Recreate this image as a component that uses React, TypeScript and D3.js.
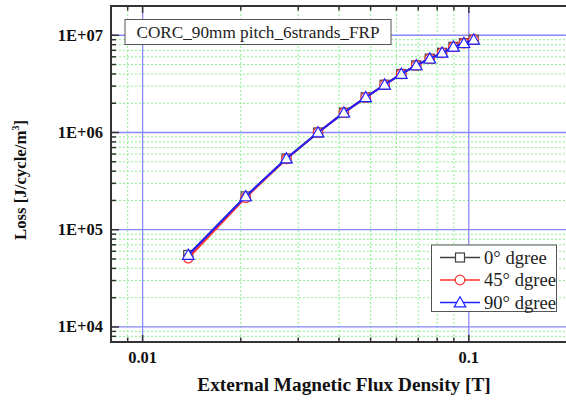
import React from "react";
import * as d3 from "d3";

const fieldT = [0.0138, 0.0207, 0.0276, 0.0345, 0.0414, 0.0483, 0.0552, 0.0621, 0.069, 0.0759, 0.0828, 0.0897, 0.0966, 0.1035];
const loss0 = [55000, 220000, 540000, 1000000, 1600000, 2300000, 3100000, 4000000, 4900000, 5750000, 6600000, 7600000, 8300000, 9000000];
const loss45 = [51000, 214000, 535000, 1000000, 1600000, 2300000, 3100000, 4000000, 4900000, 5750000, 6600000, 7600000, 8300000, 9000000];
const loss90 = [55000, 220000, 540000, 1000000, 1600000, 2300000, 3100000, 4000000, 4900000, 5750000, 6600000, 7600000, 8300000, 9000000];
const seriesNames = ["0° dgree", "45° dgree", "90° dgree"];
const xTickLabels = ["0.01", "0.1"];
const yTickLabels = ["1E+04", "1E+05", "1E+06", "1E+07"];
const chartTitle = "CORC_90mm pitch_6strands_FRP";

const W = 566, H = 403;
const L = 111, R = 567, T = 6, B = 342;

export default function App() {
  const x = d3.scaleLog().domain([0.008, 0.2]).range([L, R]);
  const y = d3.scaleLog().domain([7000, 2e7]).range([B, T]);

  const xMajor = [0.01, 0.1];
  const xMinor: number[] = [];
  [0.001, 0.01, 0.1].forEach((d) => {
    for (let k = 2; k <= 9; k++) {
      const v = d * k;
      if (v > 0.008 && v < 0.2) xMinor.push(v);
    }
  });
  const yMajor = [1e4, 1e5, 1e6, 1e7];
  const yMinor: number[] = [];
  [1e3, 1e4, 1e5, 1e6, 1e7].forEach((d) => {
    for (let k = 2; k <= 9; k++) {
      const v = d * k;
      if (v > 7000 && v <= 2e7) yMinor.push(v);
    }
  });

  const line = d3
    .line<[number, number]>()
    .x((d) => x(d[0]))
    .y((d) => y(d[1]));

  const series = [
    { name: seriesNames[0], vals: loss0, color: "#404040", marker: "square" },
    { name: seriesNames[1], vals: loss45, color: "#ff3030", marker: "circle" },
    { name: seriesNames[2], vals: loss90, color: "#2020ff", marker: "triangle" },
  ];

  const markerEl = (type: string, cx: number, cy: number, color: string, key: any) => {
    if (type === "square")
      return <rect key={key} x={cx - 4.5} y={cy - 4.5} width={9} height={9} fill="white" stroke={color} strokeWidth={1.2} />;
    if (type === "circle")
      return <circle key={key} cx={cx} cy={cy} r={4.8} fill="white" stroke={color} strokeWidth={1.2} />;
    const s = 5.8;
    return (
      <path
        key={key}
        d={`M${cx},${cy - s} L${cx + s},${cy + s * 0.75} L${cx - s},${cy + s * 0.75} Z`}
        fill="white"
        stroke={color}
        strokeWidth={1.2}
      />
    );
  };

  const serif = "Liberation Serif, Tinos, Times New Roman, DejaVu Serif, serif";

  return (
    <svg width={W} height={H} style={{ position: "absolute", left: 0, top: 0, background: "white", fontFamily: serif }}>
      <defs>
        <clipPath id="plot">
          <rect x={L} y={T} width={R - L} height={B - T} />
        </clipPath>
      </defs>
      <rect x={0} y={0} width={W} height={H} fill="white" />
      {/* minor grid */}
      <g stroke="#8cf08c" strokeWidth={1} strokeDasharray="2,2">
        {xMinor.map((v, i) => (
          <line key={"xm" + i} x1={x(v)} x2={x(v)} y1={T} y2={B} />
        ))}
        {yMinor.map((v, i) => (
          <line key={"ym" + i} x1={L} x2={R} y1={y(v)} y2={y(v)} />
        ))}
      </g>
      {/* major grid */}
      <g stroke="#8888ff" strokeWidth={1.3}>
        {xMajor.map((v, i) => (
          <line key={"xM" + i} x1={x(v)} x2={x(v)} y1={T} y2={B} />
        ))}
        {yMajor.map((v, i) => (
          <line key={"yM" + i} x1={L} x2={R} y1={y(v)} y2={y(v)} />
        ))}
      </g>
      {/* ticks */}
      <g stroke="#333" strokeWidth={1.5}>
        {xMajor.map((v, i) => (
          <g key={"xt" + i}>
            <line x1={x(v)} x2={x(v)} y1={B} y2={B - 7} />
            <line x1={x(v)} x2={x(v)} y1={T} y2={T + 7} />
          </g>
        ))}
        {xMinor.map((v, i) => (
          <g key={"xtm" + i}>
            <line x1={x(v)} x2={x(v)} y1={B} y2={B - 4.5} />
            <line x1={x(v)} x2={x(v)} y1={T} y2={T + 4.5} />
          </g>
        ))}
        {yMajor.map((v, i) => (
          <line key={"yt" + i} x1={L} x2={L + 8} y1={y(v)} y2={y(v)} />
        ))}
        {yMinor.map((v, i) => (
          <line key={"ytm" + i} x1={L} x2={L + 5} y1={y(v)} y2={y(v)} />
        ))}
      </g>
      {/* frame */}
      <path d={`M${R},${T} L${L},${T} L${L},${B} L${R},${B}`} fill="none" stroke="#333" strokeWidth={2} />
      {/* data */}
      <g clipPath="url(#plot)">
        {series.map((s, si) => (
          <g key={"s" + si}>
            <path
              d={line(fieldT.map((f, i) => [f, s.vals[i]] as [number, number])) || ""}
              fill="none"
              stroke={s.color}
              strokeWidth={2}
            />
            {fieldT.map((f, i) => markerEl(s.marker, x(f), y(s.vals[i]), s.color, i))}
          </g>
        ))}
      </g>
      {/* tick labels */}
      <g fontWeight="bold" fontSize={16.5} fill="#111">
        {yMajor.map((v, i) => (
          <text key={"yl" + i} x={103} y={y(v) + 5.5} textAnchor="end">
            {yTickLabels[i]}
          </text>
        ))}
        {xMajor.map((v, i) => (
          <text key={"xl" + i} x={x(v)} y={363} textAnchor="middle">
            {xTickLabels[i]}
          </text>
        ))}
      </g>
      {/* axis titles */}
      <text x={344} y={391} textAnchor="middle" fontWeight="bold" fontSize={19.3} fill="#111">
        External Magnetic Flux Density [T]
      </text>
      <text transform="translate(26,180) rotate(-90)" textAnchor="middle" fontWeight="bold" fontSize={16.8} fill="#111">
        Loss [J/cycle/m
        <tspan fontSize={10} dy={-7}>3</tspan>
        <tspan dy={7}>]</tspan>
      </text>
      {/* title box */}
      <rect x={125} y={19.5} width={266} height={25} fill="white" stroke="#555" strokeWidth={1} />
      <text x={258} y={37.5} textAnchor="middle" fontSize={17.2} fill="#222">
        {chartTitle}
      </text>
      {/* legend */}
      <rect x={431.5} y={245} width={125} height={66.5} fill="white" stroke="#555" strokeWidth={1} />
      {series.map((s, i) => {
        const ly = 257.5 + i * 22.5;
        return (
          <g key={"lg" + i}>
            <line x1={440} x2={480} y1={ly} y2={ly} stroke={s.color} strokeWidth={1.5} />
            {markerEl(s.marker, 460, ly, s.color, "m")}
            <text x={484} y={ly + 6} fontSize={18.6} fill="#222">
              {s.name}
            </text>
          </g>
        );
      })}
    </svg>
  );
}
